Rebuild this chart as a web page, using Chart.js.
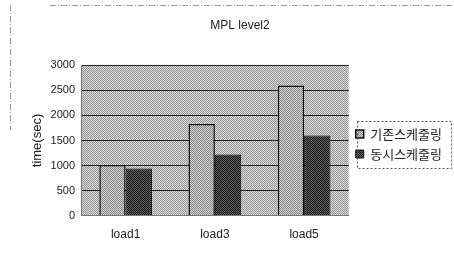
<!DOCTYPE html>
<html>
<head>
<meta charset="utf-8">
<script src="https://cdn.jsdelivr.net/npm/chart.js@4"></script>
<style>
  html, body { margin: 0; padding: 0; background: #fff; }
  #wrap { width: 454px; height: 253px; }
</style>
</head>
<body>
<div id="wrap"><canvas id="perfChart" width="454" height="253"></canvas></div>
<script>
const categories = ['load1', 'load3', 'load5'];
const seriesNames = ['기존스케줄링', '동시스케줄링'];
const baseTimes = [1010, 1830, 2600];
const concurrentTimes = [940, 1220, 1600];
const yTicks = [0, 500, 1000, 1500, 2000, 2500, 3000];

// small dither patterns, the scan looks like halftone gray
function makePattern(c1, c2) {
    const p = document.createElement('canvas');
    p.width = 2; p.height = 2;
    const g = p.getContext('2d');
    g.fillStyle = c1; g.fillRect(0, 0, 2, 2);
    g.fillStyle = c2; g.fillRect(0, 0, 1, 1); g.fillRect(1, 1, 1, 1);
    return g.createPattern(p, 'repeat');
}

const ctx = document.getElementById('perfChart').getContext('2d');
const plotBg = makePattern('#d4d4d4', '#9c9c9c');
const lightBar = makePattern('#d0d0d0', '#8a8a8a');
const darkBar = makePattern('#5e5e5e', '#1c1c1c');

const plotBackground = {
    id: 'plotBackground',
    afterLayout(chart) {
        // push the legend items down, they sit a bit below the middle
        chart.legend.top += 21;
        chart.legend.bottom += 21;
    },
    beforeDraw(chart) {
        const a = chart.chartArea;
        const c = chart.ctx;
        c.save();
        c.fillStyle = plotBg;
        c.fillRect(a.left, a.top, a.right - a.left, a.bottom - a.top);
        c.restore();
    },
    afterDraw(chart) {
        const c = chart.ctx;
        const boxes = chart.legend.legendHitBoxes;
        c.save();
        if (boxes.length) {
            const first = boxes[0];
            const last = boxes[boxes.length - 1];
            const top = first.top - 7;
            const bottom = last.top + last.height + 7;
            // dashed box round the legend
            c.strokeStyle = '#555';
            c.lineWidth = 1;
            c.setLineDash([2, 2]);
            c.strokeRect(357.5, Math.round(top) + 0.5, 94, Math.round(bottom - top));
        }
        // faint scan border of the figure
        c.strokeStyle = '#999';
        c.setLineDash([6, 2, 1, 2]);
        c.beginPath();
        c.moveTo(50, 5.5); c.lineTo(454, 5.5);
        c.moveTo(10.5, 5); c.lineTo(10.5, 130);
        c.stroke();
        c.restore();
    }
};

new Chart(ctx, {
    type: 'bar',
    data: {
        labels: categories,
        datasets: [
            {
                label: seriesNames[0],
                data: baseTimes,
                backgroundColor: lightBar,
                borderColor: '#111',
                borderWidth: 1.5,
                categoryPercentage: 0.59,
                barPercentage: 1
            },
            {
                label: seriesNames[1],
                data: concurrentTimes,
                backgroundColor: darkBar,
                borderColor: '#111',
                borderWidth: 1,
                categoryPercentage: 0.59,
                barPercentage: 1
            }
        ]
    },
    options: {
        responsive: false,
        animation: false,
        devicePixelRatio: 1,
        layout: { padding: { left: 28, right: 2, top: 0, bottom: 7 } },
        plugins: {
            title: {
                display: true,
                text: 'MPL level2',
                color: '#222',
                font: { family: 'Liberation Sans', size: 12, weight: 'normal' },
                padding: { top: 18, bottom: 33 }
            },
            legend: {
                position: 'right',
                labels: {
                    color: '#222',
                    boxWidth: 8,
                    boxHeight: 8,
                    padding: 7,
                    font: { family: 'Noto Sans CJK KR', size: 13 }
                }
            },
            tooltip: { enabled: false }
        },
        scales: {
            x: {
                grid: { display: false },
                border: { color: '#777' },
                ticks: {
                    color: '#222',
                    padding: 4,
                    font: { family: 'Liberation Sans', size: 12 }
                }
            },
            y: {
                min: 0,
                max: 3000,
                afterBuildTicks: (s) => { s.ticks = yTicks.map(v => ({ value: v })); },
                afterFit: (s) => { s.width = 53; },
                grid: { color: '#222', lineWidth: 1, drawTicks: false },
                border: { color: '#777' },
                title: {
                    display: true,
                    text: 'time(sec)',
                    color: '#222',
                    padding: 2,
                    font: { family: 'Liberation Sans', size: 13 }
                },
                ticks: {
                    color: '#222',
                    padding: 6,
                    font: { family: 'Liberation Sans', size: 11 },
                    callback: (v) => String(v)
                }
            }
        }
    },
    plugins: [plotBackground]
});
</script>
</body>
</html>
